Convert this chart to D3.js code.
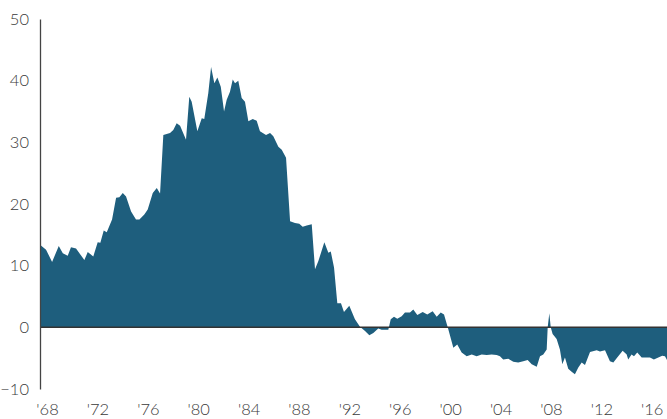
<!DOCTYPE html>
<html><head><meta charset="utf-8">
<script src="https://cdn.jsdelivr.net/npm/d3@7"></script>
<style>
html,body{margin:0;padding:0;background:#fff;}
svg{display:block;}
text{font-family:Lato,"Open Sans",sans-serif;}
</style></head>
<body>
<script>
const years = [1967.44,1967.92,1968.40,1968.93,1969.25,1969.64,1969.90,1970.30,1970.96,1971.23,1971.67,1972.02,1972.23,1972.50,1972.74,1973.16,1973.48,1973.74,1974.01,1974.27,1974.67,1975.06,1975.33,1975.72,1975.99,1976.39,1976.71,1976.97,1977.23,1977.76,1978.02,1978.29,1978.56,1979.03,1979.29,1979.48,1979.93,1980.28,1980.48,1980.80,1981.02,1981.28,1981.52,1981.79,1982.05,1982.26,1982.52,1982.74,1982.92,1983.18,1983.45,1983.71,1983.98,1984.33,1984.64,1984.90,1985.38,1985.70,1985.96,1986.36,1986.63,1986.97,1987.29,1987.68,1988.02,1988.29,1988.61,1989.01,1989.27,1989.53,1990.01,1990.33,1990.52,1990.78,1991.04,1991.33,1991.57,1991.99,1992.44,1992.84,1993.24,1993.58,1993.90,1994.29,1994.56,1995.09,1995.28,1995.54,1995.80,1996.15,1996.41,1996.81,1997.07,1997.39,1997.82,1998.18,1998.61,1998.93,1999.25,1999.51,1999.85,2000.25,2000.56,2000.91,2001.31,2001.71,2002.10,2002.50,2002.90,2003.29,2003.69,2003.95,2004.21,2004.61,2005.01,2005.40,2005.80,2006.15,2006.47,2006.87,2007.13,2007.39,2007.66,2007.74,2007.87,2007.98,2008.13,2008.45,2008.71,2008.90,2009.11,2009.37,2009.64,2009.90,2010.17,2010.44,2010.70,2011.10,2011.63,2011.89,2012.29,2012.68,2012.95,2013.26,2013.69,2014.01,2014.13,2014.40,2014.59,2014.85,2015.20,2015.86,2016.17,2016.52,2016.83,2017.05,2017.21];
const values = [13.4,12.6,10.6,13.2,12.0,11.6,13.0,12.8,10.9,12.2,11.5,13.8,13.7,15.7,15.4,17.5,21.0,21.1,21.8,21.2,18.8,17.5,17.5,18.3,19.1,21.8,22.6,21.7,31.2,31.5,32.0,33.1,32.7,30.4,37.4,36.6,31.8,33.9,33.8,38.0,42.2,39.6,40.5,39.0,35.0,36.9,38.2,40.2,39.6,40.0,37.2,36.6,33.4,33.8,33.5,31.8,31.2,31.5,31.0,29.3,28.8,27.5,17.2,16.9,16.8,16.3,16.5,16.7,9.4,10.7,13.8,12.1,12.3,9.7,3.9,3.9,2.5,3.5,1.3,0.1,-0.6,-1.3,-0.9,-0.2,-0.4,-0.4,1.3,1.7,1.4,1.8,2.4,2.4,2.9,2.0,2.5,2.1,2.6,1.7,2.4,2.1,-0.3,-3.3,-2.8,-4.1,-4.7,-4.4,-4.7,-4.4,-4.5,-4.4,-4.5,-4.7,-5.2,-5.1,-5.6,-5.7,-5.5,-5.3,-6.0,-6.4,-4.7,-4.4,-3.6,0,2.3,0,-1.1,-1.9,-3.6,-6.0,-4.9,-6.7,-7.2,-7.6,-6.5,-5.7,-6.1,-4.0,-3.7,-3.9,-3.7,-5.5,-5.7,-4.9,-3.8,-4.4,-5.2,-4.4,-4.7,-4.1,-4.9,-4.9,-5.2,-4.9,-4.6,-4.7,-5.3];
const yTicks = [-10,0,10,20,30,40,50];
const xTicks = [1968,1972,1976,1980,1984,1988,1992,1996,2000,2004,2008,2012,2016];
const xTickLabels = ["'68","'72","'76","'80","'84","'88","'92","'96","'00","'04","'08","'12","'16"];

const W = 667, H = 419;
const svg = d3.select("body").append("svg").attr("width", W).attr("height", H);
const x = d3.scaleLinear().domain([1967.44, 2017.21]).range([40, 667]);
const y = d3.scaleLinear().domain([-10, 50]).range([389, 19]);

const data = years.map((t, i) => ({t, v: values[i]}));
const area = d3.area().x(d => x(d.t)).y0(y(0)).y1(d => y(d.v));
svg.append("path").datum(data).attr("d", area).attr("fill", "#1e5e7d");

// zero line
svg.append("line").attr("x1", 40).attr("x2", W).attr("y1", y(0)).attr("y2", y(0))
  .attr("stroke", "#333").attr("stroke-width", 1.5);

// y axis
const ya = svg.append("g").attr("transform", "translate(40,0)")
  .call(d3.axisLeft(y).tickValues(yTicks).tickSize(0).tickPadding(11).tickFormat(d3.format("d")));
ya.select(".domain").attr("stroke", "#444").attr("stroke-width", 1.3);
ya.selectAll("text").attr("font-size", 16.5).attr("fill", "#3a3a3a").attr("font-weight", 300).attr("font-family", "Lato, 'Open Sans', sans-serif");

// x axis
const xa = svg.append("g").attr("transform", "translate(0,399)")
  .call(d3.axisBottom(x).tickValues(xTicks).tickSize(0).tickPadding(4).tickFormat((d, i) => xTickLabels[i]));
xa.select(".domain").remove();
xa.selectAll("text").attr("font-size", 16.5).attr("fill", "#3a3a3a").attr("font-weight", 300).attr("font-family", "Lato, 'Open Sans', sans-serif");
</script>
</body></html>
